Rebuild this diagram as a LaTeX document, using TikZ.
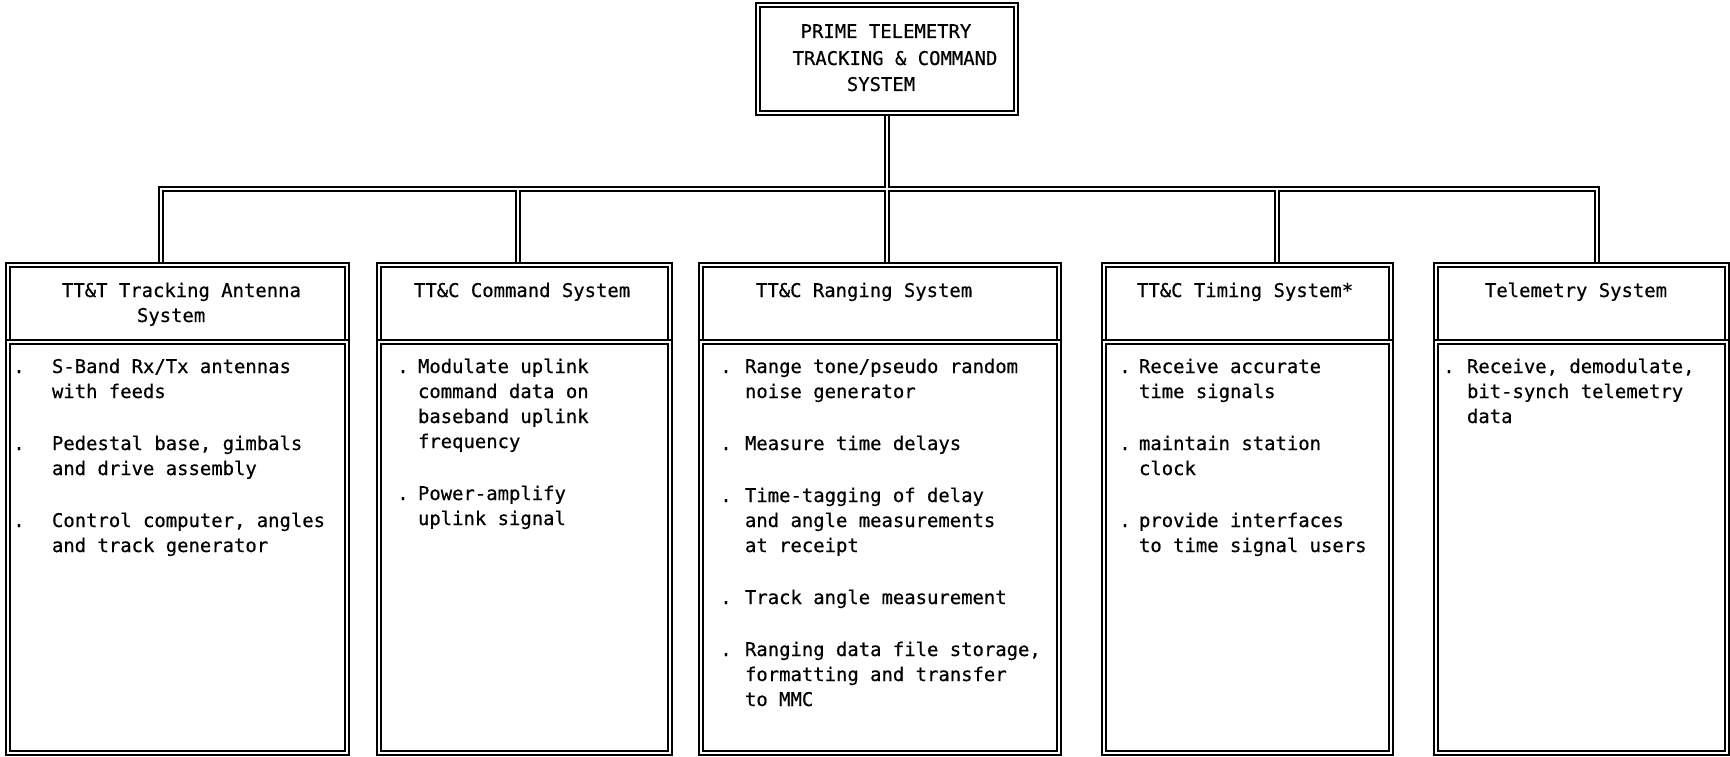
\documentclass[tikz,border=0pt]{standalone}
\usepackage{fontspec}
\newfontfamily\plotfont[FakeBold=0.5]{DejaVu Sans Mono}
\pgfdeclarelayer{paper}
\pgfdeclarelayer{conn}
\pgfsetlayers{paper,conn,main}
\tikzset{
  dbl/.style={draw=black, line width=1.4pt, double=white, double distance=2.4pt},
  frame/.style={dbl, rectangle, inner sep=0pt, outer sep=0pt, anchor=north west},
  txt/.style={font=\plotfont\fontsize{18.9}{25}\selectfont, inner sep=0pt, outer sep=0pt, text=black},
  ln/.style={txt, anchor=base west},
  ctr/.style={txt, anchor=base},
}
\newcommand\bodylines[4]{%
  \foreach \txt [count=\k] in {#4}
    \node[ln] (#3\k) at (#1, {#2+25*(\k-1)}) {\txt};%
}
\begin{document}
\begin{tikzpicture}[x=1pt,y=-1pt]
\useasboundingbox (0,0) rectangle (1730,757);
\begin{pgfonlayer}{paper}
\fill[white] (0,0) rectangle (1730,757);
\end{pgfonlayer}

% top box
\node[frame, minimum width=258pt, minimum height=108pt] (top) at (758,5) {};
\node[ctr] (t1) at (886,38) {PRIME TELEMETRY};
\node[ctr] (t2) at (895,65) {TRACKING \& COMMAND};
\node[ctr] (t3) at (881,91) {SYSTEM};

% headers and bodies
\node[frame, minimum width=339pt, minimum height=77pt] (h1) at (8,265) {};
\node[frame, minimum width=339pt, minimum height=411pt] (p1) at (8,342) {};
\node[frame, minimum width=291pt, minimum height=77pt] (h2) at (379,265) {};
\node[frame, minimum width=291pt, minimum height=411pt] (p2) at (379,342) {};
\node[frame, minimum width=358pt, minimum height=77pt] (h3) at (701,265) {};
\node[frame, minimum width=358pt, minimum height=411pt] (p3) at (701,342) {};
\node[frame, minimum width=287pt, minimum height=77pt] (h4) at (1104,265) {};
\node[frame, minimum width=287pt, minimum height=411pt] (p4) at (1104,342) {};
\node[frame, minimum width=291pt, minimum height=77pt] (h5) at (1436,265) {};
\node[frame, minimum width=291pt, minimum height=411pt] (p5) at (1436,342) {};

% connectors
\begin{pgfonlayer}{conn}
\coordinate (j1) at (161,189);
\coordinate (j2) at (518,189);
\coordinate (j4) at (1277,189);
\coordinate (j5) at (1597,189);
\draw[dbl] (h1.north -| j1) -- (j1) -- (j5) -- (h5.north -| j5)
  (j2) -- (h2.north -| j2)
  (top.south) -- (h3.north -| top.south)
  (j4) -- (h4.north -| j4);
\end{pgfonlayer}

% header texts
\node[ln] (ht1a) at (62,297) {TT\&T Tracking Antenna};
\node[ln] (ht1b) at (137,322) {System};
\node[ln] (ht2) at (414,297) {TT\&C Command System};
\node[ln] (ht3) at (756,297) {TT\&C Ranging System};
\node[ln] (ht4) at (1137,297) {TT\&C Timing System*};
\node[ln] (ht5) at (1485,297) {Telemetry System};

% box 1 body
\node[ctr] (d1a) at (19,373) {.};
\bodylines{52}{373}{b1a}{{S-Band Rx/Tx antennas},{with feeds}}
\node[ctr] (d1b) at (19,450) {.};
\bodylines{52}{450}{b1b}{{Pedestal base, gimbals},{and drive assembly}}
\node[ctr] (d1c) at (19,527) {.};
\bodylines{52}{527}{b1c}{{Control computer, angles},{and track generator}}

% box 2 body
\node[ctr] (d2a) at (403,373) {.};
\bodylines{418}{373}{b2a}{{Modulate uplink},{command data on},{baseband uplink},{frequency}}
\node[ctr] (d2b) at (403,500) {.};
\bodylines{418}{500}{b2b}{{Power-amplify},{uplink signal}}

% box 3 body
\node[ctr] (d3a) at (726,373) {.};
\bodylines{745}{373}{b3a}{{Range tone/pseudo random},{noise generator}}
\node[ctr] (d3b) at (726,450) {.};
\bodylines{745}{450}{b3b}{{Measure time delays}}
\node[ctr] (d3c) at (726,502) {.};
\bodylines{745}{502}{b3c}{{Time-tagging of delay},{and angle measurements},{at receipt}}
\node[ctr] (d3d) at (726,604) {.};
\bodylines{745}{604}{b3d}{{Track angle measurement}}
\node[ctr] (d3e) at (726,656) {.};
\bodylines{745}{656}{b3e}{{Ranging data file storage,},{formatting and transfer},{to MMC}}

% box 4 body
\node[ctr] (d4a) at (1125,373) {.};
\bodylines{1139}{373}{b4a}{{Receive accurate},{time signals}}
\node[ctr] (d4b) at (1125,450) {.};
\bodylines{1139}{450}{b4b}{{maintain station},{clock}}
\node[ctr] (d4c) at (1125,527) {.};
\bodylines{1139}{527}{b4c}{{provide interfaces},{to time signal users}}

% box 5 body
\node[ctr] (d5a) at (1449,373) {.};
\bodylines{1467}{373}{b5a}{{Receive, demodulate,},{bit-synch telemetry},{data}}
\end{tikzpicture}
\end{document}
